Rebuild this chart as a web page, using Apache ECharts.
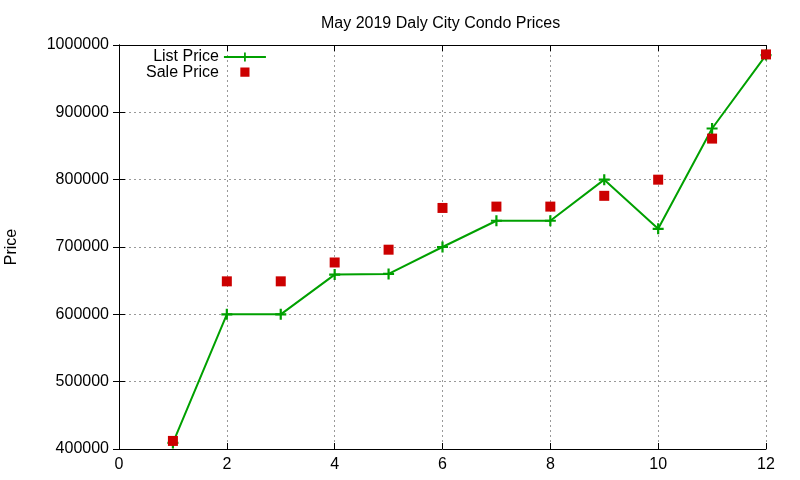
<!DOCTYPE html>
<html><head><meta charset="utf-8">
<script src="https://cdn.jsdelivr.net/npm/echarts@6/dist/echarts.min.js"></script>
<style>html,body{margin:0;padding:0;background:#fff}#c{width:800px;height:480px}</style>
</head><body><div id="c"></div>
<script>
const months = [1,2,3,4,5,6,7,8,9,10,11,12];
const listPrice = [409000,600000,600000,659000,660000,700000,739000,739000,800000,727000,876000,985000];
const salePrice = [412000,649000,649000,677000,696000,758000,760000,760000,776000,800000,861000,986000];
const xTicks = [0,2,4,6,8,10,12];
const yTicks = [400000,500000,600000,700000,800000,900000,1000000];

const FONT = 'Liberation Sans';
const plus = 'path://M4,0h2v4h4v2h-4v4h-2v-4h-4v-2h4z';
const squareIcon = 'path://M0,0L0,0.01M42,0L42,0.01M16,-1h10v10h-10zM0,11L0,11.01';
const chart = echarts.init(document.getElementById('c'));
const grid = {left:119, right:34, top:45, bottom:31, containLabel:false, outerBoundsMode:'none'};
const baseAxis = {axisLine:{show:true,lineStyle:{color:'#000',width:1}},
  axisTick:{show:true,inside:true,length:6,lineStyle:{color:'#000'}}};
chart.setOption({
  animation:false,
  title:{text:'May 2019 Daly City Condo Prices',left:316,top:11,
    textStyle:{fontFamily:FONT,fontSize:16,fontWeight:'normal',color:'#000'}},
  grid:grid,
  legend:{orient:'vertical',left:141,top:44,align:'right',itemWidth:42,itemHeight:11,itemGap:0,
    textStyle:{fontFamily:FONT,fontSize:16,lineHeight:16,color:'#000'},
    data:[{name:'List Price'},{name:'Sale Price',icon:squareIcon}]},
  xAxis:[
    Object.assign({type:'value',min:0,max:12,interval:2,
      axisLabel:{fontFamily:FONT,fontSize:16,color:'#000',margin:8,
        formatter:v=>xTicks.includes(v)?String(v):''},
      splitLine:{show:true,lineStyle:{color:'#999',type:[2,3],width:1}}},baseAxis),
    Object.assign({type:'value',min:0,max:12,interval:2,position:'top',
      axisLabel:{show:false},splitLine:{show:false}},baseAxis)
  ],
  yAxis:[
    Object.assign({type:'value',min:400000,max:1000000,interval:100000,
      name:'Price',nameLocation:'middle',nameGap:99,nameRotate:90,
      nameTextStyle:{fontFamily:FONT,fontSize:16,color:'#000'},
      axisLabel:{fontFamily:FONT,fontSize:16,color:'#000',margin:10,
        formatter:v=>yTicks.includes(v)?String(v):''},
      splitLine:{show:true,lineStyle:{color:'#999',type:[2,3],width:1}}},baseAxis),
    Object.assign({type:'value',min:400000,max:1000000,interval:100000,position:'right',
      axisLabel:{show:false},splitLine:{show:false}},baseAxis)
  ],
  series:[
    {name:'List Price',type:'line',xAxisIndex:0,yAxisIndex:0,
      data:months.map((m,i)=>[m,listPrice[i]]),
      symbol:plus,symbolSize:11,showAllSymbol:true,
      lineStyle:{color:'#00a000',width:2},itemStyle:{color:'#00a000'},z:2},
    {name:'Sale Price',type:'scatter',xAxisIndex:0,yAxisIndex:0,
      data:months.map((m,i)=>[m,salePrice[i]]),
      symbol:'rect',symbolSize:10,itemStyle:{color:'#cc0000',opacity:1},z:3}
  ]
});
</script></body></html>
